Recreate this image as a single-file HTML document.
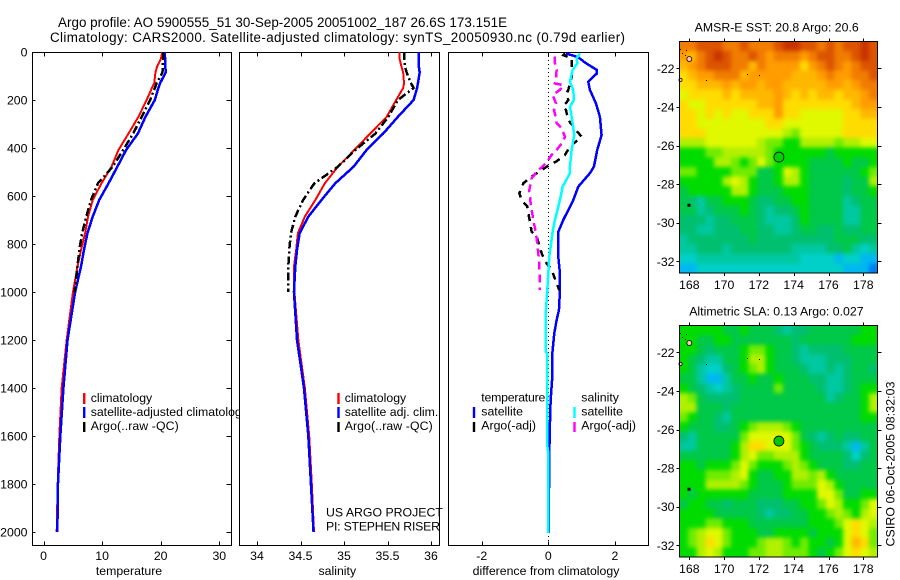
<!DOCTYPE html>
<html lang="en">
<head>
<meta charset="utf-8">
<title>Argo profile 5900555_51</title>
<style>
html,body{margin:0;padding:0;background:#fff;}
svg{display:block;}
text{font-family:"Liberation Sans",sans-serif;font-size:12.3px;fill:#000;}
.title{font-size:13.4px;}
.ends{text-anchor:end;}
.mid{text-anchor:middle;}
</style>
</head>
<body>
<svg id="figure" xmlns="http://www.w3.org/2000/svg" width="900" height="580" viewBox="0 0 900 580">
  <defs>
    <filter id="cell-soften" filterUnits="userSpaceOnUse" x="650" y="0" width="250" height="580" color-interpolation-filters="sRGB">
      <feGaussianBlur stdDeviation="2.2"/>
    </filter>
    <clipPath id="clip-sst"><rect x="679.5" y="41.5" width="198" height="231.5"/></clipPath>
    <clipPath id="clip-sla"><rect x="679.5" y="325.5" width="198" height="231.5"/></clipPath>
  </defs>
  <rect x="0" y="0" width="900" height="580" fill="#fff"/>
  <text class="title" x="58" y="27" textLength="449">Argo profile: AO 5900555_51 30-Sep-2005 20051002_187 26.6S 173.151E</text>
  <text class="title" x="50" y="42" textLength="575">Climatology: CARS2000. Satellite-adjusted climatology: synTS_20050930.nc (0.79d earlier)</text>

  <g id="panel-temp"></g>
  <g>
    <rect x="83" y="393" width="2.4" height="11" fill="#f00"/>
    <rect x="83" y="407" width="2.4" height="11" fill="#00f"/>
    <rect x="83" y="422" width="2.4" height="10" fill="#000"/>
    <text x="90.7" y="402">climatology</text>
    <text x="90.7" y="416">satellite-adjusted climatology</text>
    <text x="90.7" y="430" textLength="88">Argo(..raw -QC)</text>
  </g>

  <g id="panel-sal"></g>
  <g>
    <rect x="337.3" y="393" width="2.4" height="11" fill="#f00"/>
    <rect x="337.3" y="407" width="2.4" height="11" fill="#00f"/>
    <rect x="337.3" y="422" width="2.4" height="10" fill="#000"/>
    <text x="344.7" y="402">climatology</text>
    <text x="344.7" y="416">satellite adj. clim.</text>
    <text x="344.7" y="430" textLength="88">Argo(..raw -QC)</text>
  </g>
  <text x="326" y="516.7">US ARGO PROJECT</text>
  <text x="326" y="530.7" textLength="114">PI: STEPHEN RISER</text>

  <g id="panel-diff"></g>
  <g>
    <text x="481.3" y="401.7" textLength="64">temperature</text>
    <rect x="472.8" y="407" width="2.4" height="11" fill="#00f"/>
    <text x="481.3" y="415.7">satellite</text>
    <rect x="472.8" y="422" width="2.4" height="10" fill="#000"/>
    <text x="481.3" y="429.7">Argo(-adj)</text>
    <text x="581.3" y="401.7">salinity</text>
    <rect x="573.3" y="407" width="2.4" height="11" fill="#0ff"/>
    <text x="581.3" y="415.7">satellite</text>
    <rect x="573.3" y="422" width="2.4" height="10" fill="#f0f"/>
    <text x="581.3" y="429.7">Argo(-adj)</text>
  </g>

  <g id="map-sst"></g>
  <g id="map-sla"></g>
  <text class="mid" x="776.7" y="31.7">AMSR-E SST: 20.8 Argo: 20.6</text>
  <text class="mid" x="776.4" y="315.7">Altimetric SLA: 0.13 Argo: 0.027</text>
  <text class="mid" transform="translate(894.5,464) rotate(-90)" textLength="165">CSIRO 06-Oct-2005 08:32:03</text>
</svg>

<script>
/* ---------- profile data ---------- */
var depthLevels = [0,30,60,85,130,150,200,270,340,408,478,547,617,686,755,825,894,1000,1200,1400,1600,1800,2000];
var tempClimatology = [20.3,20.0,19.4,19.1,18.9,18.5,17.6,16.2,14.5,12.8,11.6,9.9,8.4,7.6,7.1,6.4,5.8,5.03,3.95,3.1,2.7,2.42,2.25];
var tempSatellite = [20.7,20.75,20.8,20.85,19.9,19.6,19.0,17.4,16.1,14.1,12.6,11.1,9.5,8.4,7.5,6.9,6.4,5.4,4.1,3.4,2.87,2.47,2.36];
var tempArgo = [20.45,20.4,20.35,20.3,19.3,19.0,18.2,16.75,15.3,13.6,11.8,9.3,8.1,7.3,6.6,6.1,5.8,5.3,null,null,null,null,null];
var salClimatology = [35.64,35.64,35.66,35.68,35.69,35.68,35.6,35.49,35.3,35.12,34.93,34.78,34.67,34.55,34.47,34.45,34.425,34.43,34.475,34.55,34.6,34.63,34.655];
var salSatellite = [35.86,35.86,35.86,35.87,35.85,35.84,35.8,35.62,35.45,35.26,35.11,34.9,34.74,34.59,34.49,34.46,34.44,34.425,34.46,34.54,34.59,34.62,34.65];
var salArgo = [35.69,35.69,35.7,35.72,35.77,35.8,35.62,35.51,35.36,35.13,34.93,34.66,34.53,34.44,34.39,34.37,34.36,34.36,null,null,null,null,null];

var diffTempSatDepths = [6,22,44,75,89,124,158,214,270,346,408,478,505,561,617,700,749,853,922,992,1075,1117,1172,1256,1353,1450,1547,1672,2005];
var diffTempSat = [0.53,0.9,1.1,1.46,1.46,1.2,1.25,1.43,1.55,1.6,1.47,1.37,1.25,0.9,0.75,0.45,0.3,0.3,0.35,0.35,0.32,0.25,0.18,0.12,0.12,0.07,0.05,0.03,0.01];
var diffSalSatDepths = [6,26,47,75,124,158,200,228,269,346,408,478,505,561,617,700,749,853,922,992,1075,1172,1250,1257,1450,1640,1670,2005];
var diffSalSat = [0.95,0.85,0.87,0.73,0.65,0.75,0.77,0.65,0.7,0.78,0.7,0.65,0.65,0.43,0.35,0.2,0.13,0.03,0,-0.03,-0.07,-0.07,-0.07,-0.03,-0.03,-0.03,0,0];
var diffTempArgoDepths = [6,13,26,103,158,172,200,228,242,283,332,353,394,429,457,478,492,519,547,589,617,644,672,707,749,769,839,881,908,964,992];
var diffTempArgo = [0.5,0.45,0.7,0.7,0.6,0.55,0.6,0.45,0.53,0.6,0.87,1.0,0.65,0.5,0.23,-0.05,-0.2,-0.5,-0.75,-0.87,-0.8,-0.63,-0.6,-0.55,-0.5,-0.35,-0.2,-0.05,0.1,0.25,0.33];
var diffSalArgoDepths = [19,47,75,110,131,138,158,179,214,242,269,297,318,353,381,408,429,464,499,526,575,631,700,756,811,881,992];
var diffSalArgo = [0.2,0.2,0.25,0.23,0.2,0.45,0.35,0.13,0.23,0.17,0.22,0.25,0.4,0.5,0.4,0.25,0.1,-0.07,-0.35,-0.5,-0.57,-0.53,-0.45,-0.37,-0.32,-0.27,-0.25];

var depthTicks = [0,200,400,600,800,1000,1200,1400,1600,1800,2000];
var tempTicks = [0,10,20,30];
var salTicks = [34,34.5,35,35.5,36];
var diffTicks = [-2,0,2];
var salTickLabels = ['34','34.5','35','35.5','36'];

/* ---------- map data: colour levels on 0.5 degree cells, north to south ---------- */
var sstCells = [
[13,13,14,14,14,13,13,14,13,13,13,14,15,15,14,14,13,14,13,14,14,15,14],
[12,11,13,14,15,14,13,13,14,13,12,13,13,13,12,13,14,14,13,13,14,15,14],
[11,12,13,14,14,14,13,13,11,13,12,12,12,12,10,12,13,14,13,12,13,14,14],
[10,11,12,12,13,13,13,11,12,12,12,12,12,11,11,11,12,13,12,12,13,13,14],
[10,10,11,11,11,12,11,12,12,11,12,12,11,11,11,11,11,12,12,11,12,13,13],
[9,10,10,10,10,11,10,11,11,11,11,12,11,10,11,10,11,11,10,11,11,12,13],
[10,9,9,10,10,10,10,10,10,11,11,12,10,10,10,10,10,10,10,10,11,12,12],
[10,10,9,10,9,10,9,9,10,10,10,12,10,10,9,9,9,9,9,10,10,11,11],
[10,10,9,9,9,9,9,9,9,9,10,10,9,9,9,9,9,9,9,10,10,10,10],
[10,10,10,9,9,9,9,9,9,9,9,9,8,7,9,9,9,9,9,10,10,10,10],
[8,8,8,9,9,9,9,9,9,8,7,7,6,6,8,8,8,8,7,8,8,9,9],
[6,6,6,7,7,8,8,8,8,8,7,6,6,6,6,6,6,5,6,6,6,6,6],
[6,6,6,6,8,8,7,6,7,9,7,6,6,6,6,5,5,5,5,6,5,5,6],
[7,7,6,6,6,6,7,7,7,5,5,6,9,8,6,5,5,5,5,5,5,6,7],
[6,6,6,6,6,8,9,8,6,5,5,6,8,8,6,5,5,5,5,4,5,5,8],
[5,6,6,6,6,6,8,8,6,5,5,5,6,6,6,5,5,5,5,4,5,5,6],
[5,4,3,5,5,6,6,6,5,4,4,5,5,6,6,5,5,5,5,3,4,5,5],
[5,5,3,4,5,5,5,6,5,4,3,4,4,5,6,5,5,5,5,3,3,5,5],
[4,4,4,3,4,4,5,5,5,4,3,3,3,4,6,5,5,5,5,3,3,5,5],
[4,4,3,3,4,4,4,5,5,4,4,3,3,4,5,5,4,4,5,4,4,5,5],
[3,4,4,4,4,4,4,4,5,4,4,4,4,4,4,4,4,4,5,5,5,4,4],
[3,3,4,4,4,3,4,4,4,4,4,4,4,3,3,3,3,4,4,5,3,2,3],
[2,2,3,3,3,3,3,3,3,3,3,3,3,3,2,2,2,2,1,2,2,1,1],
[1,1,2,2,2,2,2,2,2,2,2,2,2,2,2,2,2,2,2,1,1,1,0]
];
var slaCells = [
[6,6,6,6,6,5,5,6,5,5,5,4,3,4,4,5,5,5,5,5,5,6,6],
[6,6,5,5,6,6,5,5,5,5,5,5,5,4,5,5,5,5,5,5,6,6,6],
[6,6,5,4,5,5,5,6,7,7,6,5,5,4,3,4,4,4,4,5,5,5,5],
[6,5,4,3,3,5,5,6,8,8,6,5,5,4,3,3,3,4,4,4,5,5,5],
[6,5,3,2,2,4,5,6,7,8,6,5,5,5,4,3,3,4,3,4,5,5,4],
[5,5,3,1,1,3,5,5,6,5,5,6,5,5,5,4,4,3,3,4,5,5,5],
[6,5,4,3,2,3,4,5,5,5,5,7,5,5,5,5,4,3,3,4,5,6,6],
[8,7,5,4,4,4,4,5,5,5,5,5,5,5,5,5,5,3,4,5,5,6,8],
[8,8,5,5,5,4,5,5,5,5,5,5,5,5,5,5,5,5,5,5,5,6,8],
[7,6,5,5,4,3,5,5,5,5,5,5,5,5,5,5,5,5,5,5,5,6,6],
[6,5,5,5,4,4,5,6,7,8,8,8,7,6,5,5,5,5,5,5,5,5,5],
[4,3,5,5,5,5,5,7,9,9,9,9,9,7,5,4,3,4,5,4,4,5,5],
[3,3,5,5,5,5,6,8,10,10,9,9,9,7,6,5,4,4,4,3,1,3,5],
[5,5,5,5,5,5,6,8,9,7,7,8,8,8,6,5,5,5,5,4,2,4,5],
[6,6,5,6,6,6,7,9,7,6,6,6,7,8,7,6,5,5,5,4,4,5,5],
[6,6,6,7,7,7,8,9,6,5,5,6,6,8,8,7,8,6,5,5,5,5,5],
[6,6,6,8,8,8,8,7,6,5,5,5,6,7,7,7,9,8,6,5,5,5,5],
[6,5,6,6,6,6,6,6,5,5,5,5,6,6,6,6,9,9,7,5,5,6,6],
[5,6,6,5,5,4,5,5,5,4,4,4,5,5,6,6,7,9,8,6,6,7,9],
[6,6,6,6,5,5,5,5,5,4,3,4,4,5,5,6,6,7,8,7,6,8,9],
[6,6,6,7,7,6,6,6,5,5,5,5,5,5,5,6,6,6,7,9,10,9,8],
[6,7,8,9,9,7,6,6,6,5,5,6,6,6,6,5,6,6,6,9,10,9,7],
[6,7,8,10,9,7,6,6,6,7,8,8,7,6,7,6,6,5,6,9,11,10,7],
[6,6,8,9,8,6,6,6,7,7,8,8,7,7,7,6,5,6,7,9,10,9,8]
];
var levelColours = ['#0080f0','#00b8f0','#00d0c8','#00c8a0','#00c070','#00c848','#00dc00','#70ec00','#b0f000','#e0f800','#ffdc00','#ffb800','#ff9c00','#f07c00','#dc5400','#c83400'];
var coastDotLons = [167.46,167.8,167.58,167.75,168.94,171.3,172.02];
var coastDotLats = [21.02,21.05,21.19,21.31,22.6,22.3,22.36];
var lonTicks = [168,170,172,174,176,178];
var latTicks = [22,24,26,28,30,32];
var argoLon = 173.15;
var argoLat = 26.6;

/* ---------- helpers ---------- */
var NS = 'http://www.w3.org/2000/svg';
function depthY(d){ return 52 + 0.24 * d; }
function tempX(v){ return 43.5 + 5.86 * v; }
function salX(v){ return 257 + 87 * (v - 34); }
function diffX(v){ return 548.3 + 33.3 * v; }

function make(parent, tag, name){
  var el = document.createElementNS(NS, tag);
  
  
  parent.appendChild(el);
  return el;
}
function hline(parent, x1, x2, y, name){
  var l = make(parent, 'line', name);
  l.setAttribute('x1', x1); l.setAttribute('x2', x2);
  l.setAttribute('y1', y); l.setAttribute('y2', y);
  l.setAttribute('stroke', '#000');
  l.setAttribute('shape-rendering', 'crispEdges');
}
function vline(parent, x, y1, y2, name){
  var l = make(parent, 'line', name);
  l.setAttribute('x1', x); l.setAttribute('x2', x);
  l.setAttribute('y1', y1); l.setAttribute('y2', y2);
  l.setAttribute('stroke', '#000');
  l.setAttribute('shape-rendering', 'crispEdges');
}
function label(parent, x, y, str, cls, name){
  var t = make(parent, 'text', name);
  t.setAttribute('x', x);
  t.setAttribute('y', y);
  if (cls) t.setAttribute('class', cls);
  t.textContent = str;
}
function profile(parent, xFn, depths, values, colour, width, dash, name){
  var pts = [];
  for (var i = 0; i < values.length; i++) {
    if (values[i] === null) continue;
    pts.push(xFn(values[i]).toFixed(2) + ',' + depthY(depths[i]).toFixed(2));
  }
  var p = make(parent, 'polyline', name);
  p.setAttribute('points', pts.join(' '));
  p.setAttribute('fill', 'none');
  p.setAttribute('stroke', colour);
  p.setAttribute('stroke-width', width);
  p.setAttribute('shape-rendering', 'crispEdges');
  if (dash) p.setAttribute('stroke-dasharray', dash);
}
function panelFrame(parent, left, right, xFn, ticks, tickLabels, xLabel, xLabelX, name){
  var bg = make(parent, 'rect', name + '-frame');
  bg.setAttribute('x', left);
  bg.setAttribute('y', 52.5);
  bg.setAttribute('width', right - left);
  bg.setAttribute('height', 493);
  bg.setAttribute('fill', '#fff');
  bg.setAttribute('stroke', '#000');
  bg.setAttribute('shape-rendering', 'crispEdges');
  ticks.forEach(function(v, i){
    var x = Math.round(xFn(v)) + 0.5;
    vline(parent, x, 52.5, 56.5, name + '-top-tick');
    vline(parent, x, 541.5, 545.5, name + '-bottom-tick');
    label(parent, xFn(v), 560, tickLabels[i], 'mid', name + '-tick-label');
  });
  label(parent, xLabelX, 575, xLabel, 'mid', name + '-axis-title');
}

/* ---------- temperature panel ---------- */
var pT = document.getElementById('panel-temp');
panelFrame(pT, 32.5, 231.5, tempX, tempTicks, tempTicks.map(String), 'temperature', 129, 'temperature');
depthTicks.forEach(function(d){
  var y = Math.round(depthY(d)) + 0.5;
  hline(pT, 32.5, 35.5, y, 'depth-tick-left');
  hline(pT, 226.5, 231.5, y, 'depth-tick-right');
  label(pT, 27.5, depthY(d) + 4.5, String(d), 'ends', 'depth-tick-label');
});
profile(pT, tempX, depthLevels, tempClimatology, '#f00', 2, null, 'temperature-climatology-line');
profile(pT, tempX, depthLevels, tempSatellite, '#00f', 2.5, null, 'temperature-satellite-line');
profile(pT, tempX, depthLevels, tempArgo, '#000', 2.5, '8,3,2,3', 'temperature-argo-line');

/* ---------- salinity panel ---------- */
var pS = document.getElementById('panel-sal');
panelFrame(pS, 239.5, 439.5, salX, salTicks, salTickLabels, 'salinity', 337.3, 'salinity');
profile(pS, salX, depthLevels, salClimatology, '#f00', 2, null, 'salinity-climatology-line');
profile(pS, salX, depthLevels, salSatellite, '#00f', 2.5, null, 'salinity-satellite-line');
profile(pS, salX, depthLevels, salArgo, '#000', 2.5, '8,3,2,3', 'salinity-argo-line');

/* ---------- difference panel ---------- */
var pD = document.getElementById('panel-diff');
panelFrame(pD, 448.5, 648.5, diffX, diffTicks, diffTicks.map(String), 'difference from climatology', 546, 'difference');
var zero = make(pD, 'line', 'zero-reference-line');
zero.setAttribute('x1', diffX(0)); zero.setAttribute('x2', diffX(0));
zero.setAttribute('y1', 52); zero.setAttribute('y2', 545);
zero.setAttribute('stroke', '#000');
zero.setAttribute('stroke-dasharray', '1,3');
zero.setAttribute('shape-rendering', 'crispEdges');
profile(pD, diffX, diffTempSatDepths, diffTempSat, '#00f', 2.5, null, 'difference-temp-satellite-line');
profile(pD, diffX, diffTempArgoDepths, diffTempArgo, '#000', 2.5, '7,6', 'difference-temp-argo-line');
profile(pD, diffX, diffSalSatDepths, diffSalSat, '#0ff', 2.5, null, 'difference-sal-satellite-line');
profile(pD, diffX, diffSalArgoDepths, diffSalArgo, '#f0f', 2.5, '8,5', 'difference-sal-argo-line');

/* ---------- maps ---------- */
function drawMap(groupId, clipId, cells, top, lat22Y, xLabelY, name, markerFill){
  var g = document.getElementById(groupId);
  var left = 679.5, width = 198, height = 231.5;
  var cols = cells[0].length, rows = cells.length;
  var cw = width / cols, ch = height / rows;
  function lonX(lon){ return 689.3 + 17.4 * (lon - 168); }
  function latY(lat){ return lat22Y + 19.3 * (lat - 22); }
  var clipGroup = make(g, 'g', name + '-field-clip');
  clipGroup.setAttribute('clip-path', 'url(#' + clipId + ')');
  var field = make(clipGroup, 'g', name + '-field');
  field.setAttribute('filter', 'url(#cell-soften)');
  var bleed = 12;
  cells.forEach(function(row, r){
    row.forEach(function(level, c){
      var cell = make(field, 'rect', name + '-cell');
      var x0 = left + c * cw - (c === 0 ? bleed : 0);
      var y0 = top + r * ch - (r === 0 ? bleed : 0);
      var x1 = left + (c + 1) * cw + (c === cols - 1 ? bleed : 0);
      var y1 = top + (r + 1) * ch + (r === rows - 1 ? bleed : 0);
      cell.setAttribute('x', x0.toFixed(2));
      cell.setAttribute('y', y0.toFixed(2));
      cell.setAttribute('width', (x1 - x0 + 0.4).toFixed(2));
      cell.setAttribute('height', (y1 - y0 + 0.4).toFixed(2));
      cell.setAttribute('fill', levelColours[level]);
      cell.setAttribute('shape-rendering', 'crispEdges');
    });
  });
  coastDotLons.forEach(function(lon, i){
    var d = make(g, 'rect', 'coast-speck');
    d.setAttribute('x', Math.round(lonX(lon)));
    d.setAttribute('y', Math.round(latY(coastDotLats[i])));
    d.setAttribute('width', 1);
    d.setAttribute('height', 1);
    d.setAttribute('fill', '#000');
  });
  var norfolk = make(g, 'rect', 'norfolk-island');
  norfolk.setAttribute('x', lonX(167.95) - 1);
  norfolk.setAttribute('y', latY(29.07) - 1);
  norfolk.setAttribute('width', 3);
  norfolk.setAttribute('height', 3);
  norfolk.setAttribute('fill', '#000');
  var isle = make(g, 'circle', 'new-caledonia-coast');
  isle.setAttribute('cx', lonX(168));
  isle.setAttribute('cy', latY(21.52));
  isle.setAttribute('r', 2.5);
  isle.setAttribute('fill', '#ffc8a0');
  isle.setAttribute('stroke', '#000');
  isle.setAttribute('stroke-width', 0.8);
  var isle2 = make(g, 'circle', 'grande-terre-coast');
  isle2.setAttribute('cx', left + 1);
  isle2.setAttribute('cy', latY(22.6));
  isle2.setAttribute('r', 1.6);
  isle2.setAttribute('fill', '#ffc8a0');
  isle2.setAttribute('stroke', '#000');
  isle2.setAttribute('stroke-width', 0.7);
  var frame = make(g, 'rect', name + '-frame');
  frame.setAttribute('x', left);
  frame.setAttribute('y', top);
  frame.setAttribute('width', width);
  frame.setAttribute('height', height);
  frame.setAttribute('fill', 'none');
  frame.setAttribute('stroke', '#000');
  frame.setAttribute('shape-rendering', 'crispEdges');
  lonTicks.forEach(function(lon){
    var x = Math.round(lonX(lon)) + 0.5;
    vline(g, x, top - 3, top, name + '-top-tick');
    vline(g, x, top + height, top + height + 3, name + '-bottom-tick');
    label(g, lonX(lon), xLabelY, String(lon), 'mid', name + '-lon-label');
  });
  latTicks.forEach(function(lat){
    var y = Math.round(latY(lat)) + 0.5;
    hline(g, left - 3, left, y, name + '-left-tick');
    hline(g, left + width, left + width + 4, y, name + '-right-tick');
    label(g, 674.5, latY(lat) + 4.5, '-' + lat, 'ends', name + '-lat-label');
  });
  var marker = make(g, 'circle', 'argo-position-marker');
  marker.setAttribute('cx', lonX(argoLon));
  marker.setAttribute('cy', latY(argoLat));
  marker.setAttribute('r', 5);
  marker.setAttribute('fill', markerFill);
  marker.setAttribute('stroke', '#000');
  marker.setAttribute('stroke-width', 0.8);
}
drawMap('map-sst', 'clip-sst', sstCells, 41.5, 68.3, 289, 'sst-map', '#00d000');
drawMap('map-sla', 'clip-sla', slaCells, 325.5, 352.3, 573, 'sla-map', '#00c800');
</script>
</body>
</html>
